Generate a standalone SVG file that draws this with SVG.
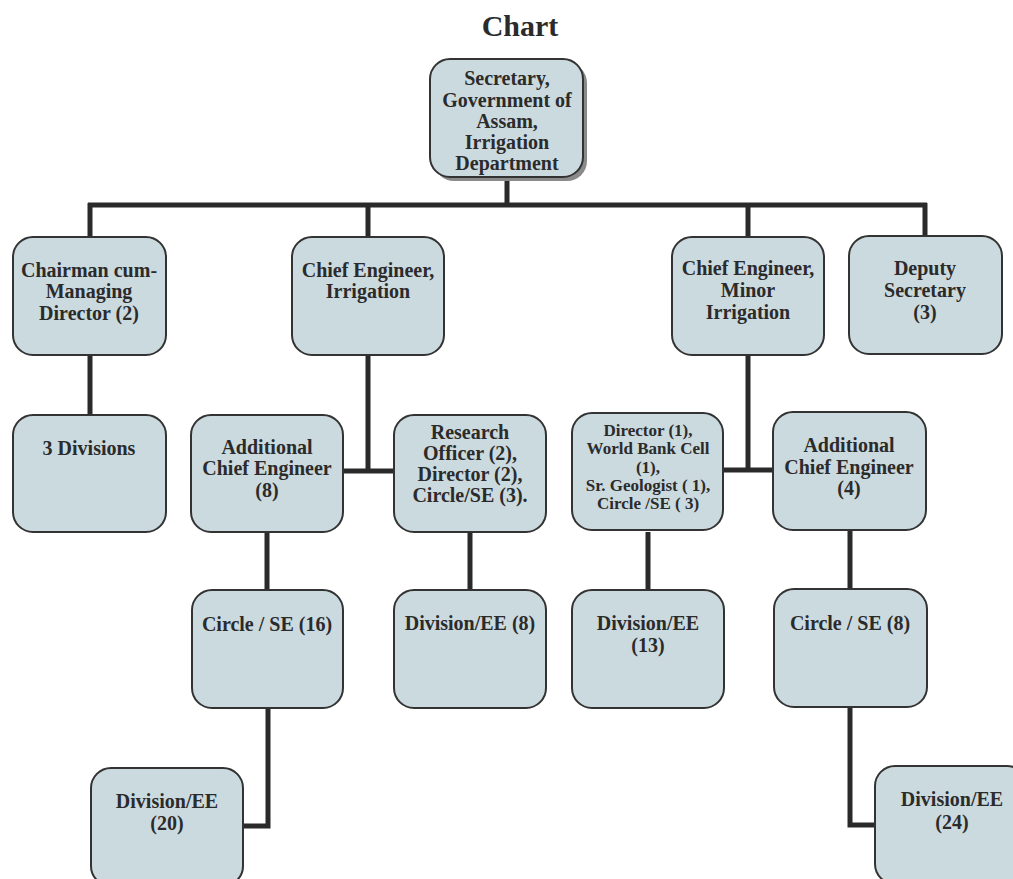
<svg xmlns="http://www.w3.org/2000/svg" width="1013" height="879" viewBox="0 0 1013 879">
<defs>
<style>
.box{fill:#cbdadf;stroke:#333;stroke-width:2}
.t{font-family:"Liberation Serif","Times New Roman",serif;font-weight:bold;font-size:20px;fill:#2b2b2b;text-anchor:middle}
.s{font-size:17px}
.c{fill:none;stroke:#2a2a2a;stroke-width:5}
</style>
</defs>
<rect width="1013" height="879" fill="#fff"/>
<text x="520" y="36" class="t" style="font-size:30px">Chart</text>
<g id="connectors">
<path class="c" d="M507 177V205M88 205H927M90 203V237M368 203V237M748 203V237M925 203V237"/>
<path class="c" d="M90 355V415"/>
<path class="c" d="M368 355V471M343 471H394"/>
<path class="c" d="M748 355V470M723 470H773"/>
<path class="c" d="M267 532V590M470 532V590M648 532V590M850 530V590"/>
<path class="c" d="M268 708V826H243"/>
<path class="c" d="M850 708V825H875"/>
</g>
<g id="n-secretary">
<rect x="434" y="63" width="153" height="118" rx="20" fill="#8a8a8a"/>
<rect class="box" x="430" y="59" width="153" height="118" rx="20"/>
<text class="t" x="507" y="85">Secretary,</text>
<text class="t" x="507" y="107">Government of</text>
<text class="t" x="507" y="128">Assam,</text>
<text class="t" x="507" y="149">Irrigation</text>
<text class="t" x="507" y="170">Department</text>
</g>
<g id="n-chairman">
<rect class="box" x="13" y="237" width="153" height="118" rx="20"/>
<text class="t" x="89" y="277">Chairman cum-</text>
<text class="t" x="89" y="298">Managing</text>
<text class="t" x="89" y="320">Director (2)</text>
</g>
<g id="n-ce-irrigation">
<rect class="box" x="292" y="237" width="152" height="118" rx="20"/>
<text class="t" x="368" y="277">Chief Engineer,</text>
<text class="t" x="368" y="298">Irrigation</text>
</g>
<g id="n-ce-minor">
<rect class="box" x="672" y="237" width="152" height="118" rx="20"/>
<text class="t" x="748" y="275">Chief Engineer,</text>
<text class="t" x="748" y="297">Minor</text>
<text class="t" x="748" y="319">Irrigation</text>
</g>
<g id="n-deputy">
<rect class="box" x="849" y="236" width="153" height="118" rx="20"/>
<text class="t" x="925" y="275">Deputy</text>
<text class="t" x="925" y="297">Secretary</text>
<text class="t" x="925" y="319">(3)</text>
</g>
<g id="n-3div">
<rect class="box" x="13" y="415" width="153" height="117" rx="20"/>
<text class="t" x="89" y="455">3 Divisions</text>
</g>
<g id="n-ace8">
<rect class="box" x="191" y="415" width="152" height="117" rx="20"/>
<text class="t" x="267" y="454">Additional</text>
<text class="t" x="267" y="475">Chief Engineer</text>
<text class="t" x="267" y="497">(8)</text>
</g>
<g id="n-research">
<rect class="box" x="394" y="415" width="152" height="117" rx="20"/>
<text class="t" x="470" y="439">Research</text>
<text class="t" x="470" y="460">Officer (2),</text>
<text class="t" x="470" y="481">Director (2),</text>
<text class="t" x="470" y="502">Circle/SE (3).</text>
</g>
<g id="n-director">
<rect class="box" x="572" y="413" width="151" height="117" rx="20"/>
<text class="t s" x="648" y="436">Director (1),</text>
<text class="t s" x="648" y="454">World Bank Cell</text>
<text class="t s" x="648" y="473">(1),</text>
<text class="t s" x="648" y="491">Sr. Geologist ( 1),</text>
<text class="t s" x="648" y="509">Circle /SE ( 3)</text>
</g>
<g id="n-ace4">
<rect class="box" x="773" y="412" width="153" height="118" rx="20"/>
<text class="t" x="849" y="452">Additional</text>
<text class="t" x="849" y="474">Chief Engineer</text>
<text class="t" x="849" y="495">(4)</text>
</g>
<g id="n-circle16">
<rect class="box" x="192" y="590" width="151" height="118" rx="20"/>
<text class="t" x="267" y="631">Circle / SE (16)</text>
</g>
<g id="n-div8">
<rect class="box" x="394" y="590" width="152" height="118" rx="20"/>
<text class="t" x="470" y="630">Division/EE (8)</text>
</g>
<g id="n-div13">
<rect class="box" x="572" y="590" width="152" height="118" rx="20"/>
<text class="t" x="648" y="630">Division/EE</text>
<text class="t" x="648" y="652">(13)</text>
</g>
<g id="n-circle8">
<rect class="box" x="774" y="589" width="153" height="118" rx="20"/>
<text class="t" x="850" y="630">Circle / SE (8)</text>
</g>
<g id="n-div20">
<rect class="box" x="91" y="768" width="152" height="118" rx="20"/>
<text class="t" x="167" y="808">Division/EE</text>
<text class="t" x="167" y="830">(20)</text>
</g>
<g id="n-div24">
<rect class="box" x="875" y="766" width="152" height="118" rx="20"/>
<text class="t" x="952" y="806">Division/EE</text>
<text class="t" x="952" y="829">(24)</text>
</g>
</svg>
